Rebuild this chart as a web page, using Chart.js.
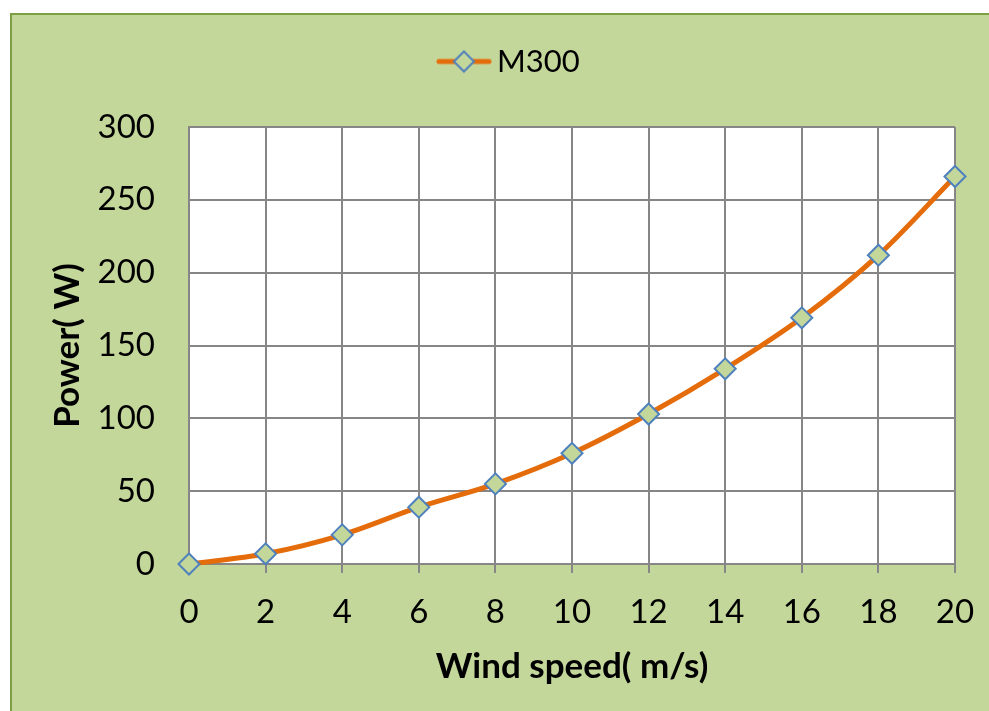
<!DOCTYPE html>
<html>
<head>
<meta charset="utf-8">
<script src="https://cdn.jsdelivr.net/npm/chart.js@4/dist/chart.umd.min.js"></script>
<style>
  html, body { margin: 0; padding: 0; background: #ffffff; }
  #wrap { position: absolute; left: 0; top: 0; width: 989px; height: 711px; }
</style>
</head>
<body>
<div id="wrap"><canvas id="chart" width="989" height="711"></canvas></div>
<script>
// données
const windSpeed = [0, 2, 4, 6, 8, 10, 12, 14, 16, 18, 20];
const powerM300 = [0, 7, 20, 39, 55, 76, 103, 134, 169, 212, 266];
const seriesName = 'M300';
const xTitle = 'Wind speed( m/s)';
const yTitle = 'Power( W)';

const FONT = 'Lato, "Open Sans", sans-serif';
const GREEN = '#c4d79b';
const LEGEND_BOX = 106;

// icône de légende : ligne orange + losange, calée à droite de l'image
const legendIcon = document.createElement('canvas');
legendIcon.width = LEGEND_BOX + 21;
legendIcon.height = 24;
(() => {
    const c = legendIcon.getContext('2d');
    const x0 = legendIcon.width - 56;
    c.strokeStyle = '#e46c0a';
    c.lineWidth = 5;
    c.lineCap = 'round';
    c.beginPath(); c.moveTo(x0 + 3, 12); c.lineTo(x0 + 53, 12); c.stroke();
    c.fillStyle = GREEN;
    c.strokeStyle = '#4f81bd';
    c.lineWidth = 2;
    const m = x0 + 28;
    c.beginPath();
    c.moveTo(m, 2); c.lineTo(m + 10, 12); c.lineTo(m, 22); c.lineTo(m - 10, 12); c.closePath();
    c.fill(); c.stroke();
})();

// fond vert, cadre et zone de tracé blanche
const framePlugin = {
    id: 'frame',
    beforeDraw(chart) {
        const { ctx, chartArea: a } = chart;
        ctx.save();
        ctx.fillStyle = '#ffffff';
        ctx.fillRect(0, 0, chart.width, chart.height);
        ctx.fillStyle = GREEN;
        ctx.fillRect(10, 13, chart.width - 10, chart.height - 13);
        ctx.strokeStyle = '#7f9f45';
        ctx.lineWidth = 2;
        ctx.beginPath();
        ctx.moveTo(11, chart.height); ctx.lineTo(11, 14); ctx.lineTo(chart.width, 14);
        ctx.stroke();
        ctx.fillStyle = '#ffffff';
        ctx.fillRect(a.left, a.top, a.right - a.left, a.bottom - a.top);
        ctx.restore();
    }
};

new Chart(document.getElementById('chart'), {
    type: 'line',
    data: {
        datasets: [{
            label: seriesName,
            data: windSpeed.map((x, i) => ({ x, y: powerM300[i] })),
            borderColor: '#e46c0a',
            borderWidth: 5,
            cubicInterpolationMode: 'monotone',
            pointStyle: 'rectRot',
            pointRadius: 10.5,
            pointHoverRadius: 10.5,
            pointBackgroundColor: GREEN,
            pointBorderColor: '#4f81bd',
            pointBorderWidth: 2,
            clip: false,
        }],
    },
    options: {
        responsive: false,
        animation: false,
        devicePixelRatio: 1,
        layout: { padding: { top: 36, right: 34, bottom: 0, left: 0 } },
        plugins: {
            tooltip: { enabled: false },
            legend: {
                position: 'top',
                labels: {
                    usePointStyle: true,
                    pointStyleWidth: LEGEND_BOX,
                    padding: 10,
                    color: '#000',
                    font: { family: FONT, size: 31 },
                    generateLabels: () => [{
                        text: seriesName,
                        pointStyle: legendIcon,
                        fillStyle: GREEN,
                        strokeStyle: '#4f81bd',
                        lineWidth: 0,
                        datasetIndex: 0,
                    }],
                },
            },
            // espace vide entre la légende et la zone de tracé
            title: {
                display: true,
                text: '',
                weight: 500,
                padding: { top: 28, bottom: 0 },
                font: { size: 10 },
            },
        },
        scales: {
            x: {
                type: 'linear',
                min: 0,
                max: 20,
                afterFit: (scale) => { scale.height = 147; scale.paddingRight = 0; scale.paddingLeft = 0; },
                ticks: { stepSize: 2, padding: 20, color: '#000', font: { family: FONT, size: 33 } },
                grid: { color: '#868686', lineWidth: 2, tickLength: 9 },
                border: { color: '#868686', width: 2 },
                title: { display: true, text: xTitle, color: '#000', padding: { top: 0, bottom: 23 }, font: { family: FONT, size: 35, weight: 'bold' } },
            },
            y: {
                min: 0,
                max: 300,
                afterFit: (scale) => { scale.width = 189; scale.paddingTop = 0; scale.paddingBottom = 0; },
                ticks: { stepSize: 50, padding: 34, color: '#000', font: { family: FONT, size: 33 } },
                grid: { color: '#868686', lineWidth: 2, tickLength: 0 },
                border: { color: '#868686', width: 2 },
                title: { display: true, text: yTitle, color: '#000', padding: { top: 47, bottom: 0 }, font: { family: FONT, size: 35, weight: 'bold' } },
            },
        },
    },
    plugins: [framePlugin],
});
</script>
</body>
</html>
